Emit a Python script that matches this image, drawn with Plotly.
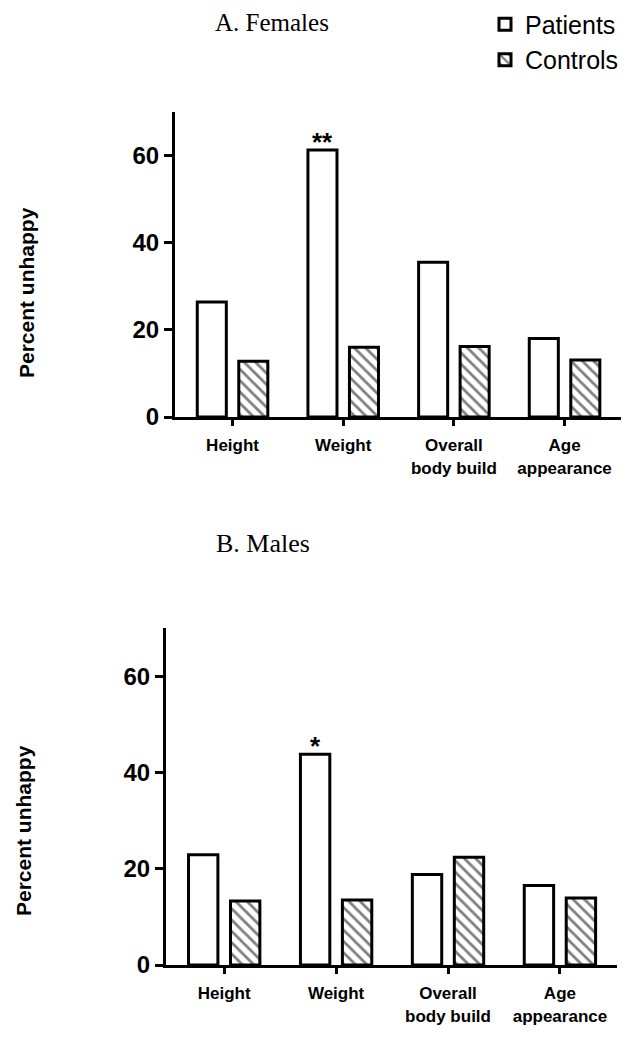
import plotly.graph_objects as go

categories = ["Height", "Weight", "Overall<br>body build", "Age<br>appearance"]
females_patients = [26.4, 61.3, 35.5, 18.0]
females_controls = [12.8, 16.0, 16.2, 13.1]
males_patients = [22.9, 43.8, 18.8, 16.5]
males_controls = [13.3, 13.5, 22.4, 13.9]
females_marks = ["", "**", "", ""]
males_marks = ["", "*", "", ""]
y_ticks = [0, 20, 40, 60]

SANS = "Arial, Liberation Sans, sans-serif"
SERIF = "Times New Roman, Liberation Serif, serif"
W, H, OFF = 636, 1050, 8  # page body margin offset


def xp(px):
    return (px - OFF) / W


def yp(py):
    return 1 - (py - OFF) / H


fig = go.Figure()
annotations = []


def add_pair(pat, con, marks, xa, ya, show):
    fig.add_trace(go.Bar(
        x=categories, y=pat, name="Patients", xaxis=xa, yaxis=ya,
        marker=dict(color="white", line=dict(color="black", width=3)),
        showlegend=show, legendgroup="p",
    ))
    fig.add_trace(go.Bar(
        x=categories, y=con, name="Controls", xaxis=xa, yaxis=ya,
        marker=dict(color="white", line=dict(color="black", width=3),
                    pattern=dict(shape="\\", fgcolor="black", bgcolor="white",
                                 size=8, solidity=0.35)),
        showlegend=show, legendgroup="c",
    ))
    for cat, val, mark in zip(categories, pat, marks):
        if mark:
            annotations.append(dict(
                text=mark, x=cat, y=val, xref=xa, yref=ya, xanchor="center",
                yanchor="bottom", xshift=-21, yshift=-9, showarrow=False,
                font=dict(family=SANS, size=26, color="black", weight="bold")))


add_pair(females_patients, females_controls, females_marks, "x", "y", True)
add_pair(males_patients, males_controls, males_marks, "x2", "y2", False)

xcommon = dict(type="category", showline=True, linecolor="black", linewidth=3,
               ticks="outside", ticklen=6, tickwidth=3, tickcolor="black",
               showgrid=False, zeroline=False, automargin=False, ticklabelstandoff=5,
               tickfont=dict(family=SANS, size=17, color="black", weight="bold"),
               range=[-0.52, 3.51])
ycommon = dict(range=[0, 70], tickvals=y_ticks, showline=True, linecolor="black",
               linewidth=3, ticks="outside", ticklen=8, tickwidth=3,
               tickcolor="black", showgrid=False, zeroline=False, automargin=False,
               tickfont=dict(family=SANS, size=24, color="black", weight="bold"))

annotations += [
    dict(text="A. Females", x=xp(272), y=yp(23), xref="paper", yref="paper",
         xanchor="center", yanchor="middle", showarrow=False,
         font=dict(family=SERIF, size=25, color="black")),
    dict(text="B. Males", x=xp(263), y=yp(543), xref="paper", yref="paper",
         xanchor="center", yanchor="middle", showarrow=False,
         font=dict(family=SERIF, size=26, color="black")),
    dict(text="<b>Percent unhappy</b>", x=xp(27), y=yp(293), xref="paper",
         yref="paper", xanchor="center", yanchor="middle", showarrow=False,
         textangle=-90, font=dict(family=SANS, size=21, color="black")),
    dict(text="<b>Percent unhappy</b>", x=xp(23), y=yp(831), xref="paper",
         yref="paper", xanchor="center", yanchor="middle", showarrow=False,
         textangle=-90, font=dict(family=SANS, size=21, color="black")),
]

fig.update_layout(
    width=W, height=H,
    margin=dict(l=0, r=0, t=0, b=0, autoexpand=False),
    paper_bgcolor="white", plot_bgcolor="white",
    barmode="group", bargap=0.25, bargroupgap=0.3,
    xaxis=dict(domain=[xp(175), xp(621)], anchor="y", **xcommon),
    yaxis=dict(domain=[yp(417), yp(112)], anchor="x", **ycommon),
    xaxis2=dict(domain=[xp(166), xp(617)], anchor="y2", **xcommon),
    yaxis2=dict(domain=[yp(965), yp(628)], anchor="x2", **ycommon),
    legend=dict(x=0.75, y=1.0062, xanchor="left", yanchor="top",
                font=dict(family=SANS, size=25, color="black"),
                bgcolor="rgba(0,0,0,0)", tracegroupgap=0),
    hovermode=False,
    annotations=annotations,
)

fig.write_html("out.html")
